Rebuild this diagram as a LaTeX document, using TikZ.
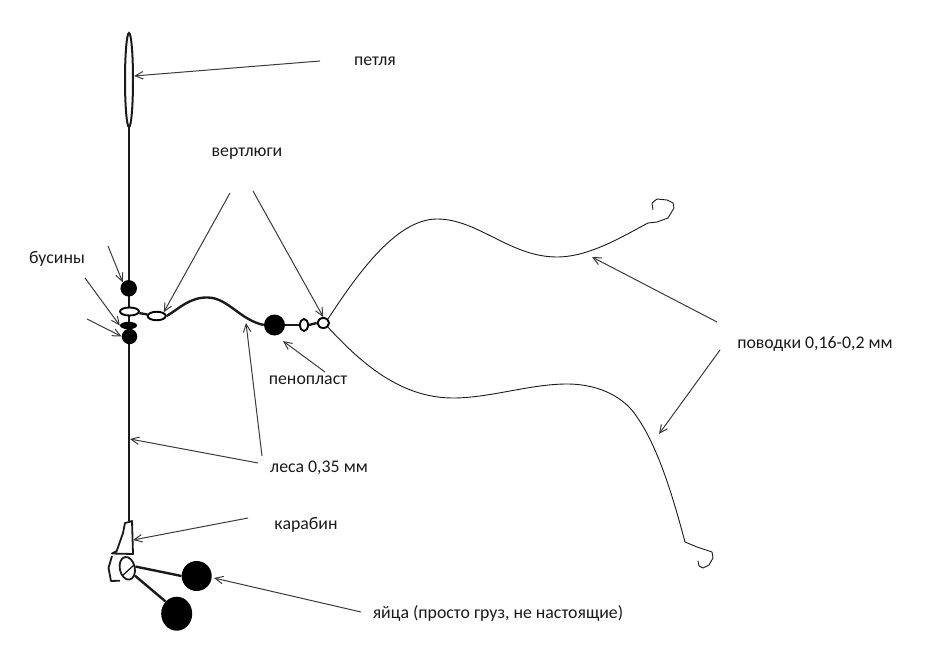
\documentclass[tikz,border=0pt]{standalone}
\usepackage{fontspec}
\setmainfont{Carlito}
\usetikzlibrary{arrows.meta,shapes.geometric}
\definecolor{ink}{HTML}{1A1A1A}
\definecolor{ptr}{HTML}{3A3A3A}
\tikzset{
  x=1pt,y=-1pt,
  lbl/.style={font=\fontsize{17.8}{20}\selectfont,text=ink,inner sep=0pt},
  ptrline/.style={draw=ptr,line width=1pt,-{Straight Barb[length=8pt,width=7.5pt,line width=1pt]}},
  heavy/.style={draw=ink,line width=2.4pt},
  snapline/.style={draw=ink,line width=1.8pt,line join=round},
  thin leader/.style={draw=ink,line width=0.9pt},
  ball/.style={circle,fill=black,draw=none,inner sep=0pt},
  ringnode/.style={ellipse,draw=black,fill=white,line width=1.9pt,inner sep=0pt},
}
\begin{document}
\begin{tikzpicture}
\useasboundingbox (0,0) rectangle (931,655);
% labels
\node[lbl] (lLoop) at (375,61) {петля};
\node[lbl] (lSwiv) at (247,154) {вертлюги};
\node[lbl] (lBeads) at (57,259) {бусины};
\node[lbl] (lFoam) at (308,380) {пенопласт};
\node[lbl] (lLine) at (319,468) {леса 0,35 мм};
\node[lbl] (lSnap) at (306,525) {карабин};
\node[lbl] (lEggs) at (498,613) {яйца (просто груз, не настоящие)};
\node[lbl] (lLeads) at (815,344) {поводки 0,16-0,2 мм};
% main line
\coordinate (top) at (129,126);
\coordinate (bot) at (129,522);
\draw[heavy] (top) -- (bot);
% loop
\node[ellipse,draw=ink,line width=2pt,minimum width=8pt,minimum height=94pt,inner sep=0pt] (loop) at (129,80) {};
% beads
\node[ball,minimum width=16.5pt] (b1) at (128.7,288.3) {};
\node[ball,ellipse,minimum width=17pt,minimum height=7.5pt] (b2) at (128.5,325.5) {};
\node[ball,minimum width=15.5pt] (b3) at (129.5,336.5) {};
% swivels on the branch
\node[ringnode,minimum width=19pt,minimum height=8pt] (r1) at (129.5,311.5) {};
\node[ringnode,minimum width=18pt,minimum height=8.5pt] (r2) at (156.7,316) {};
\node[ball,minimum width=21pt] (foam) at (274.5,325) {};
\node[ringnode,minimum width=8pt,minimum height=12pt] (r3) at (304,325) {};
\node[ringnode,minimum width=11.5pt,minimum height=10pt] (r4) at (323.3,323) {};
\draw[heavy] (r1) -- (r2);
\draw[heavy] (r2.east) .. controls (180,308) and (190,297) .. (208,297.5)
   .. controls (228,298) and (240,320) .. (foam.west);
\draw[heavy] (foam.east) -- (r3.west);
\draw[heavy] (r3.east) -- (r4.west);
% leaders
\coordinate (h1) at (648,223);
\draw[thin leader] (r4.north east) .. controls (355,278) and (395,219) .. (437,219)
   .. controls (478,219) and (510,257) .. (557,257)
   .. controls (590,257) and (625,235) .. (h1);
\draw[thin leader,line join=round] (h1) -- (657,222) -- (668,218) -- (674,208) -- (673,203) -- (667,200) -- (657,199) -- (652,203) -- (653,210);
\coordinate (h2) at (685,542);
\draw[thin leader] (r4.south east) .. controls (360,362) and (400,398) .. (453,398)
   .. controls (490,398) and (530,384) .. (567,384)
   .. controls (600,384) and (625,398) .. (637,417)
   .. controls (660,450) and (675,505) .. (h2);
\draw[thin leader,line join=round] (h2) -- (697,547) -- (712,552) -- (713,558) -- (709,565) -- (703,568) -- (699,566) -- (698,561);
% snap
\draw[snapline] (bot) -- (132,521) -- (133,554) -- (112,553.5) -- (116.7,551) -- (123,533) -- (125,523) -- (129,522);
\draw[snapline] (112,556) -- (108.5,568) -- (111,581) -- (120,580.7);
\node[ellipse,draw=ink,line width=1.8pt,minimum width=15pt,minimum height=23pt,inner sep=0pt,rotate=12] (ring) at (127.3,568.3) {};
\draw[draw=ink,line width=1.3pt] (122,576) -- (134,565);
% eggs
\node[ball,minimum width=30pt] (e1) at (196.7,576) {};
\node[ball,ellipse,minimum width=31pt,minimum height=34pt] (e2) at (176.7,613.7) {};
\draw[heavy] (ring.east) -- (e1.west);
\draw[heavy] (ring.south east) -- (e2.north west);
% pointers
\coordinate (pLoop) at (320,61);
\draw[ptrline] (pLoop) -- (134,76);
\coordinate (pS1) at (230,193); \coordinate (pS2) at (253,191);
\draw[ptrline] (pS1) -- (r2.north east);
\draw[ptrline] (pS2) -- (r4.north);
\coordinate (pB1) at (108,246); \coordinate (pB2) at (85,278); \coordinate (pB3) at (87,319);
\draw[ptrline] (pB1) -- (b1.north west);
\draw[ptrline] (pB2) -- (b2.west);
\draw[ptrline] (pB3) -- (b3.west);
\coordinate (pF) at (325,372);
\draw[ptrline] (pF) -- (283,341);
\coordinate (pL1) at (258,463); \coordinate (pL2) at (262,456);
\coordinate (tL1) at (130,439); \coordinate (tL2) at (246,323);
\draw[ptrline] (pL1) -- (tL1);
\draw[ptrline] (pL2) -- (tL2);
\coordinate (pC) at (248,518); \coordinate (tC) at (133,540);
\draw[ptrline] (pC) -- (tC);
\coordinate (pE) at (361,612);
\draw[ptrline] (pE) -- (214,578);
\coordinate (pP1) at (717,322); \coordinate (pP2) at (720,350);
\draw[ptrline] (pP1) -- (592,257);
\draw[ptrline] (pP2) -- (659,434);
\end{tikzpicture}
\end{document}
